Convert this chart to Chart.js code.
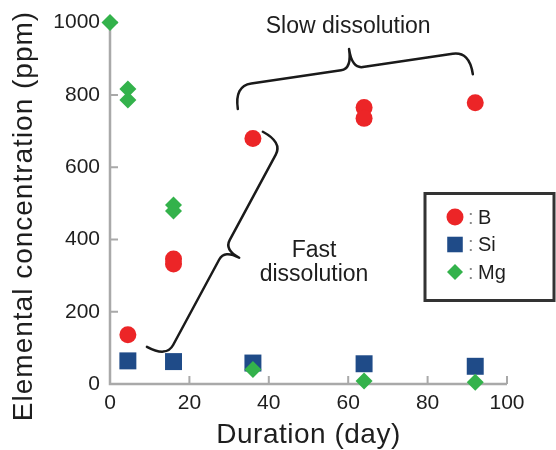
<!DOCTYPE html>
<html><head><meta charset="utf-8">
<script src="https://cdn.jsdelivr.net/npm/chart.js@4/dist/chart.umd.min.js"></script>
<style>html,body{margin:0;padding:0;background:#fff;} #wrap{width:556px;height:450px;position:relative;}</style>
</head><body><div id="wrap"><canvas id="c"></canvas></div>
<script>
// ---- data ----
const seriesNames = ['B', 'Si', 'Mg'];
const bDays   = [4.5, 16, 16, 36, 64, 64, 92];
const bValues = [136, 346, 332, 679, 765, 735, 778];
const siDays   = [4.5, 16, 36, 64, 92];
const siValues = [64, 62, 58, 56, 49];
const mgDays   = [0, 4.5, 4.5, 16, 16, 36, 64, 92];
const mgValues = [1000, 816, 786, 495, 479, 40, 8, 5];
const xTicks = [0, 20, 40, 60, 80, 100];
const yTicks = [0, 200, 400, 600, 800, 1000];
const xTitle = 'Duration (day)';
const yTitle = 'Elemental concentration (ppm)';
const slowLabel = ['Slow dissolution'];
const fastLabel = ['Fast', 'dissolution'];

// annotation anchors (in data units)
const slowText = {x: 60, y: 989};
const fastText = {x: 51.4, y: 336};
const slowBrace = {from: [32.2, 761], to: [91.4, 857]};
const fastBrace = {from: [9.3, 103], to: [38.5, 698]};

const colors = ['#ec2527', '#1f4b88', '#33b24b'];
const styles = ['circle', 'rect', 'rectRot'];
const radii = [8.5, 12, 8.5];

const toPts = (xs, ys) => xs.map((x, i) => ({x, y: ys[i]}));
const seriesData = [toPts(bDays, bValues), toPts(siDays, siValues), toPts(mgDays, mgValues)];

const datasets = seriesNames.map((name, i) => ({
  label: name,
  data: seriesData[i],
  pointStyle: styles[i],
  pointRadius: radii[i],
  pointHoverRadius: radii[i],
  pointBackgroundColor: colors[i],
  pointBorderColor: colors[i],
  pointBorderWidth: 0,
  showLine: false,
  order: [2, 1, 0][i],
  clip: false
}));

const TXT = '#1e1e1e';
const FONT = "'Liberation Sans', Arial, Helvetica, sans-serif";

function drawBrace(ctx, x1, y1, x2, y2, depth, side, hook, tipW, bodyFrac) {
  const dx = x2 - x1, dy = y2 - y1, L = Math.hypot(dx, dy);
  const ux = dx / L, uy = dy / L;
  const nx = -uy * side, ny = ux * side;
  const P = (s, o) => [x1 + ux * s + nx * o, y1 + uy * s + ny * o];
  const b = depth * bodyFrac;
  ctx.beginPath();
  let p = P(0, 0); ctx.moveTo(p[0], p[1]);
  let c = P(0, b), e = P(hook, b); ctx.quadraticCurveTo(c[0], c[1], e[0], e[1]);
  e = P(L / 2 - tipW, b); ctx.lineTo(e[0], e[1]);
  c = P(L / 2, b); e = P(L / 2, depth); ctx.quadraticCurveTo(c[0], c[1], e[0], e[1]);
  c = P(L / 2, b); e = P(L / 2 + tipW, b); ctx.quadraticCurveTo(c[0], c[1], e[0], e[1]);
  e = P(L - hook, b); ctx.lineTo(e[0], e[1]);
  c = P(L, b); e = P(L, 0); ctx.quadraticCurveTo(c[0], c[1], e[0], e[1]);
  ctx.stroke();
}

const decor = {
  id: 'decor',
  beforeDatasetsDraw(chart) {
    const {ctx, chartArea: a, scales: {x, y}} = chart;
    ctx.save();
    ctx.strokeStyle = '#a9a9a9';
    ctx.lineWidth = 2.5;
    ctx.beginPath();
    ctx.moveTo(a.left, a.top);
    ctx.lineTo(a.left, a.bottom);
    ctx.lineTo(a.right, a.bottom);
    ctx.stroke();
    ctx.lineWidth = 2;
    ctx.beginPath();
    xTicks.forEach(v => { if (v === 0) return; const px = x.getPixelForValue(v); ctx.moveTo(px, a.bottom); ctx.lineTo(px, a.bottom - 8); });
    yTicks.forEach(v => { if (v === 0) return; const py = y.getPixelForValue(v); ctx.moveTo(a.left, py); ctx.lineTo(a.left + 8, py); });
    ctx.stroke();

    // axis titles
    ctx.fillStyle = TXT;
    ctx.font = '28px ' + FONT;
    ctx.textAlign = 'center';
    ctx.textBaseline = 'alphabetic';
    try { ctx.letterSpacing = '0.5px'; } catch (e) {}
    ctx.fillText(xTitle, (a.left + a.right) / 2, 443);
    try { ctx.letterSpacing = '1px'; } catch (e) {}
    ctx.translate(32, 216);
    ctx.rotate(-Math.PI / 2);
    ctx.fillText(yTitle, 0, 0);
    ctx.restore();
  },
  afterDatasetsDraw(chart) {
    const {ctx, scales: {x, y}} = chart;
    const px = p => [x.getPixelForValue(p[0]), y.getPixelForValue(p[1])];
    ctx.save();
    ctx.strokeStyle = '#1a1a1a';
    ctx.lineWidth = 2.5;
    ctx.lineCap = 'round';
    ctx.lineJoin = 'round';
    let a = px(slowBrace.from), b = px(slowBrace.to);
    drawBrace(ctx, a[0], a[1], b[0], b[1], 43, -1, 17, 11, 0.54);
    a = px(fastBrace.from); b = px(fastBrace.to);
    drawBrace(ctx, a[0], a[1], b[0], b[1], 39, 1, 14, 11, 0.57);

    ctx.fillStyle = TXT;
    ctx.font = '23px ' + FONT;
    ctx.textAlign = 'center';
    ctx.textBaseline = 'middle';
    ctx.fillText(slowLabel[0], x.getPixelForValue(slowText.x), y.getPixelForValue(slowText.y));
    const fx = x.getPixelForValue(fastText.x), fy = y.getPixelForValue(fastText.y);
    fastLabel.forEach((t, i) => ctx.fillText(t, fx, fy + (i - (fastLabel.length - 1) / 2) * 24));
    ctx.restore();
  },
  afterDraw(chart) {
    const {ctx} = chart;
    ctx.save();
    ctx.strokeStyle = '#333';
    ctx.lineWidth = 3;
    ctx.strokeRect(425, 193.5, 129, 107);
    ctx.font = '20px ' + FONT;
    ctx.textAlign = 'left';
    ctx.textBaseline = 'middle';
    const legR = [8.5, 11, 8];
    seriesNames.forEach((n, i) => {
      const cy = 217 + i * 27.5;
      ctx.fillStyle = colors[i];
      ctx.strokeStyle = colors[i];
      Chart.helpers.drawPoint(ctx, {pointStyle: styles[i], radius: legR[i], rotation: 0, borderWidth: 0}, 455, cy);
      ctx.fillStyle = '#888';
      ctx.fillText(':', 468, cy + 1);
      ctx.fillStyle = TXT;
      ctx.fillText(n, 478, cy + 1);
    });
    ctx.restore();
  }
};

new Chart(document.getElementById('c'), {
  type: 'scatter',
  data: {datasets},
  options: {
    responsive: true,
    maintainAspectRatio: false,
    animation: false,
    events: [],
    layout: {padding: {top: 20, right: 49, left: 0, bottom: 0}},
    plugins: {legend: {display: false}, tooltip: {enabled: false}},
    scales: {
      x: {
        type: 'linear', min: 0, max: 100,
        afterBuildTicks: s => { s.ticks = xTicks.map(v => ({value: v})); },
        afterFit: s => { s.height = 66; },
        grid: {display: false, drawTicks: false},
        border: {display: false},
        ticks: {color: TXT, font: {size: 21, family: FONT}, padding: 7, maxRotation: 0, callback: v => String(v)},
        title: {display: false}
      },
      y: {
        type: 'linear', min: 0, max: 1000,
        afterBuildTicks: s => { s.ticks = yTicks.map(v => ({value: v})); },
        afterFit: s => { s.width = 110; },
        grid: {display: false, drawTicks: false},
        border: {display: false},
        ticks: {color: TXT, font: {size: 21, family: FONT}, padding: 10, callback: v => String(v)},
        title: {display: false}
      }
    }
  },
  plugins: [decor]
});
</script>
</body></html>
